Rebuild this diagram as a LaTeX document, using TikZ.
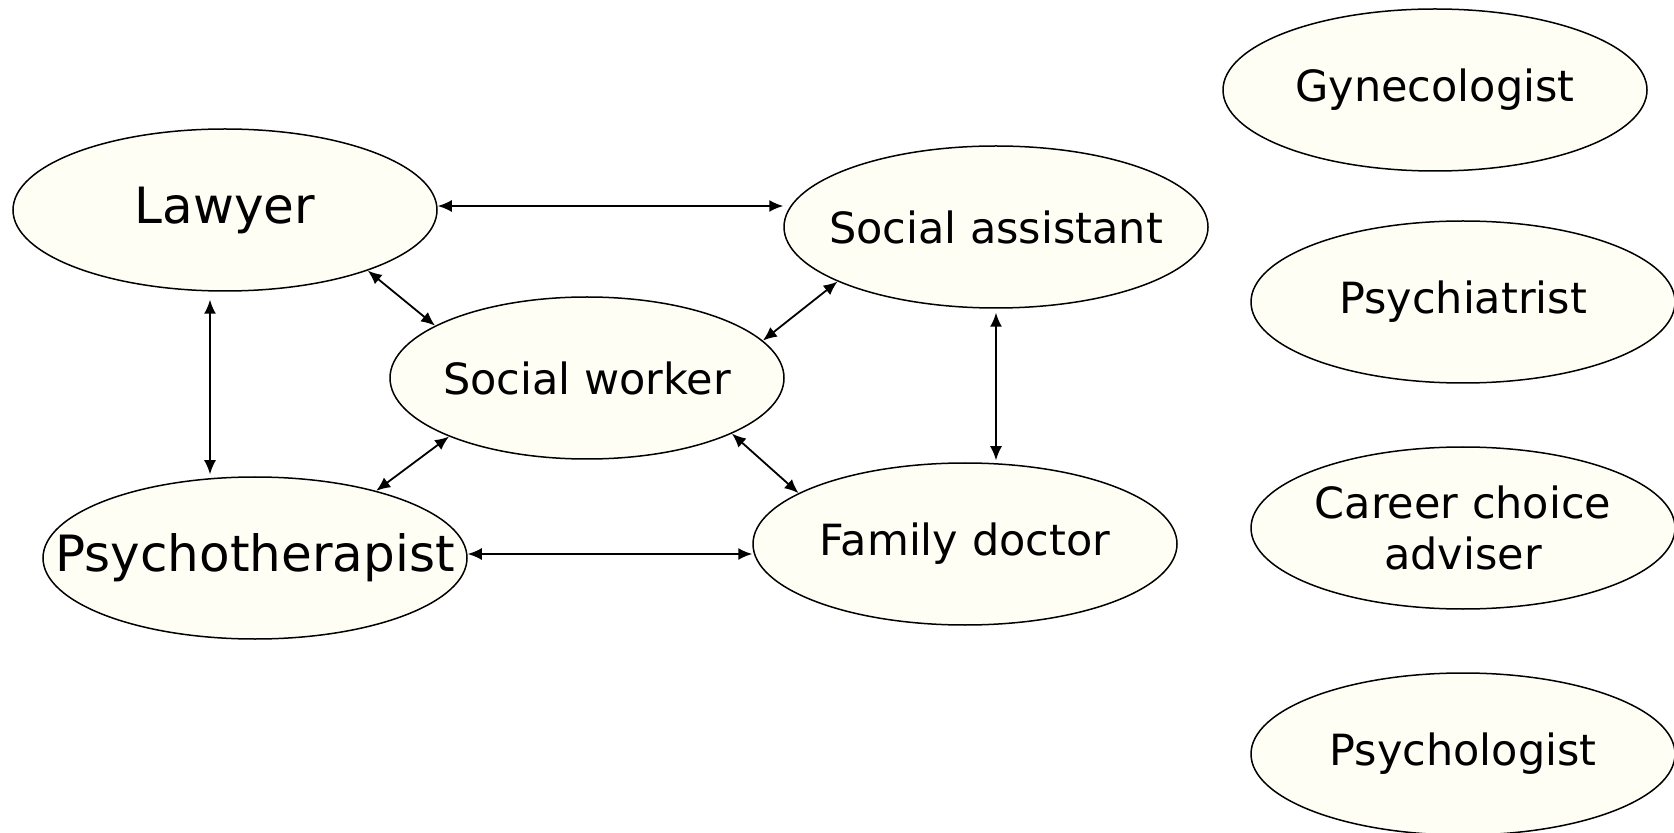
\documentclass[tikz,border=0pt]{standalone}
\usepackage{fontspec}
\setmainfont{DejaVu Sans}
\usetikzlibrary{shapes.geometric,arrows.meta,calc}
\definecolor{cream}{RGB}{255,254,245}
\newcommand{\lowered}[1]{\raisebox{-2.5pt}{#1}}
\begin{document}
\begin{tikzpicture}[x=0.5pt,y=-0.5pt,
  role/.style={ellipse,draw=black,line width=0.75pt,fill=cream,inner xsep=-200pt,inner ysep=0pt,
    minimum width=212pt,minimum height=81pt,align=center,
    font=\fontsize{21.5}{25.5}\selectfont},
  big/.style={font=\fontsize{25}{30}\selectfont},
  link/.style={{Latex[length=7pt,width=6pt]}-{Latex[length=7pt,width=6pt]},line width=0.9pt}]
\useasboundingbox (0,0) rectangle (1674,833);
\node[role,big] (L) at (225,210) {\lowered{Lawyer}};
\node[role] (SA) at (996,227) {Social assistant};
\node[role,minimum width=197pt] (SW) at (587,378) {Social worker};
\node[role,big] (P) at (255,558) {\lowered{Psychotherapist}};
\node[role] (FD) at (965,544) {Family doctor};
\node[role] (Gy) at (1435,90) {Gynecologist};
\node[role] (Ps) at (1463,302) {Psychiatrist};
\node[role] (CC) at (1463,528) {Career choice\\adviser};
\node[role] (Pg) at (1463,754) {Psychologist};
% connectors
\draw[link] ([yshift=2pt]L.east) -- ([yshift=2pt]L.east -| SA.west);
\draw[link] ([xshift=-7.5pt,yshift=-4pt]L.south) -- ([xshift=-7.5pt,yshift=1pt]L.south |- P.north);
\draw[link] ([yshift=2pt]P.east) -- ([yshift=2pt]P.east -| FD.west);
\draw[link] ([yshift=-2pt]SA.south) -- ([yshift=1pt]SA.south |- FD.north);
\draw[link] (L.-23) -- (SW.161);
\draw[link] (SW.12) -- (SA.-161);
\draw[link] (SW.-157) -- (P.29);
\draw[link] (SW.-21) -- (FD.163);
\end{tikzpicture}
\end{document}
